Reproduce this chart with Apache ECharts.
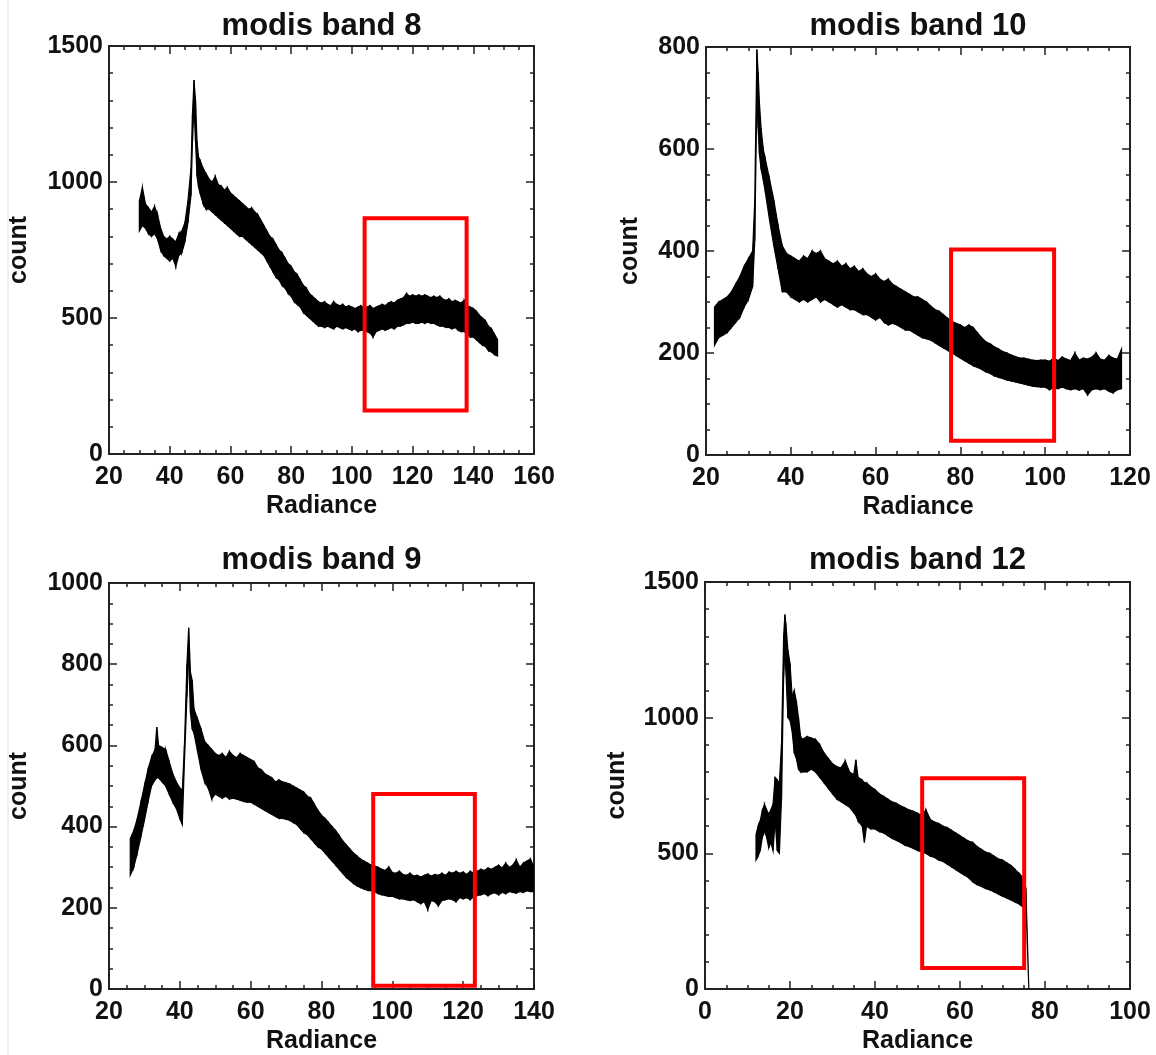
<!DOCTYPE html>
<html><head><meta charset="utf-8">
<script src="https://cdn.jsdelivr.net/npm/echarts@6/dist/echarts.min.js"></script>
<style>html,body{margin:0;padding:0;background:#fff}#main{width:1156px;height:1055px}</style>
</head><body><div id="main"></div>
<script>
// ---------- DATA ----------
const titles = ['modis band 8', 'modis band 10', 'modis band 9', 'modis band 12'];
const xAxisName = 'Radiance';
const yAxisName = 'count';

// band 8: radiance, upper / lower edge of the noisy count trace
const b8X = [30,31,32,33,34,35,36,37,38,39,40,41,42,43,44,45,46,47,47.5,48,48.5,49,49.5,
 50,51,52,53,54,55,56,57,58,59,60,61,62,63,64,65,66,67,68,69,70,71,72,73,74,75,76,77,78,79,
 80,81,82,83,84,85,86,87,88,89,90,91,92,93,94,95,96,97,98,99,100,101,102,103,104,105,106,107,108,109,
 110,111,112,113,114,115,116,117,118,119,120,121,122,123,124,125,126,127,128,129,130,131,132,133,134,135,136,137,138,139,
 140,141,142,143,144,145,146,147,148];
const b8Up = [930,980,920,905,890,910,880,830,800,790,800,790,780,810,820,850,930,1050,1250,1375,1300,1150,1090,
 1080,1050,1030,1010,1000,1020,990,985,970,980,960,950,940,930,920,910,900,905,890,880,860,840,820,800,790,770,750,740,720,700,
 690,670,660,640,620,610,590,580,570,560,555,560,550,545,560,550,545,550,540,545,540,535,540,545,535,540,545,535,540,545,
 550,545,555,560,555,565,570,575,590,580,585,580,585,580,585,580,575,580,575,580,570,565,570,560,565,560,555,565,545,540,
 535,525,510,500,490,470,460,440,420];
const b8Lo = [820,840,830,810,800,810,790,750,730,720,710,720,690,730,740,780,850,950,1150,1280,1150,1020,980,
 960,920,900,900,890,880,870,860,850,840,830,820,810,800,800,790,780,770,760,750,740,730,710,690,670,650,640,620,610,590,
 580,560,550,540,520,510,500,490,480,470,470,465,470,465,460,470,465,460,465,460,455,460,450,455,455,450,445,430,450,455,
 460,455,460,465,460,470,470,475,480,480,485,480,480,485,480,485,480,480,475,470,470,465,465,460,465,455,450,450,440,430,
 430,420,410,400,395,380,375,365,360];

// band 10
const b10X = [22,23,24,25,26,27,28,29,30,31,31.5,32,32.3,32.6,33,33.5,34,35,36,37,38,39,
 40,41,42,43,44,45,46,47,48,49,50,51,52,53,54,55,56,57,58,59,60,61,62,63,64,65,66,67,68,69,
 70,71,72,73,74,75,76,77,78,79,80,81,82,83,84,85,86,87,88,89,90,91,92,93,94,95,96,97,98,99,
 100,101,102,103,104,105,106,107,108,109,110,111,112,113,114,115,116,117,118];
const b10Up = [290,300,305,310,320,335,350,370,385,400,500,795,750,690,640,600,580,540,500,450,410,395,
 390,385,380,390,385,400,395,400,385,380,375,380,370,375,365,370,360,365,355,350,355,345,340,345,335,330,325,320,315,310,
 310,305,300,292,285,282,275,268,262,258,255,250,255,250,240,230,222,218,212,208,203,200,196,193,190,190,188,186,185,186,
 186,184,190,185,192,188,185,200,186,190,188,192,200,188,186,195,190,188,208];
const b10Lo = [215,230,235,240,250,260,270,290,305,330,420,700,640,590,560,540,515,460,410,365,320,320,
 310,305,300,305,300,305,310,300,305,300,295,290,295,290,285,285,280,275,275,270,265,270,260,255,258,255,250,245,245,240,
 235,230,228,225,220,215,210,205,200,195,190,185,180,175,172,168,163,160,155,152,150,147,145,143,141,139,137,135,134,133,
 133,128,132,130,133,130,128,130,127,130,118,128,130,128,130,125,122,128,130];

// band 9
const b9X = [26,27,28,29,30,31,32,33,33.5,34,35,36,37,38,39,40,40.7,41.3,42,42.5,43,43.5,44,45,46,47,48,49,
 50,51,52,53,54,55,56,57,58,59,60,61,62,63,64,65,66,67,68,69,70,71,72,73,74,75,76,77,78,79,
 80,81,82,83,84,85,86,87,88,89,90,91,92,93,94,95,96,97,98,99,100,101,102,103,104,105,106,107,108,109,
 110,111,112,113,114,115,116,117,118,119,120,121,122,123,124,125,126,127,128,129,130,131,132,133,134,135,136,137,138,139,140];
const b9Up = [370,390,420,460,500,540,570,590,645,600,595,590,560,530,510,495,490,600,800,890,780,760,690,665,640,610,600,590,
 580,575,580,570,585,575,570,580,575,570,565,560,545,540,530,525,520,510,515,510,508,505,500,495,490,485,475,470,455,440,
 428,420,410,400,390,378,365,355,345,335,328,320,315,310,305,303,300,295,292,300,287,285,290,282,280,285,278,280,276,280,
 283,278,282,280,285,280,288,285,290,285,288,282,290,285,290,295,292,298,295,300,305,298,310,300,305,318,300,310,315,320,300];
const b9Lo = [280,300,335,375,415,460,500,515,520,520,510,500,480,460,445,420,405,560,720,820,680,640,630,585,540,510,495,468,
 480,475,470,475,468,470,468,465,462,460,460,455,450,445,440,435,430,425,420,420,418,415,410,405,395,385,380,370,360,350,
 345,335,325,315,305,295,285,275,268,260,254,250,246,243,242,240,235,232,230,228,228,225,222,222,220,218,220,215,210,215,
 196,218,215,205,218,220,222,220,215,225,222,225,220,228,230,232,235,230,235,237,232,238,235,240,238,236,240,238,242,240,240];

// band 12
const b12X = [12,12.5,13,13.5,14,14.5,15,15.5,16,16.5,17,17.5,18,18.5,18.8,19,19.5,20,20.5,21,21.5,22,22.5,23,24,25,26,27,28,29,
 30,31,32,33,34,35,35.5,36,37,37.5,38,39,40,41,42,43,44,45,46,47,48,49,50,51,52,53,54,55,56,57,58,59,
 60,61,62,63,64,65,66,67,68,69,70,71,72,73,74,75,75.5,76.2];
const b12Up = [570,600,620,660,680,660,645,660,680,780,770,760,900,1300,1380,1350,1250,1200,1080,1100,1060,1000,930,920,930,925,920,900,870,850,
 830,820,815,840,800,790,845,780,770,760,760,745,735,720,710,700,690,685,675,668,660,655,648,640,660,625,615,610,600,595,585,575,
 565,555,545,540,525,515,505,500,490,480,475,465,455,440,425,405,370,0];
const b12Lo = [475,490,510,560,580,560,520,540,510,620,510,500,700,1150,1250,1180,1000,990,950,870,850,810,800,800,800,810,800,780,760,740,
 720,700,690,680,670,650,640,620,600,540,600,590,590,580,575,565,555,548,540,530,525,518,510,505,500,490,485,475,470,460,450,440,
 430,420,410,395,385,378,370,365,358,350,342,335,328,320,312,300,320,0];

// red highlight boxes: [x1, y1, x2, y2]
const box8 = [104.2, 160, 137.8, 867];
const box10 = [77.8, 28, 102.1, 403];
const box9 = [94.6, 8, 123.3, 480];
const box12 = [51.1, 77, 75.1, 777];

// ---------- LAYOUT ----------
const FONT = '"Liberation Sans", Arial, Helvetica, sans-serif';
const panels = [
  {title: titles[0], x: b8X, up: b8Up, lo: b8Lo, box: box8,
   grid: {left: 109, top: 46, width: 425, height: 408}, titleY: 11,
   xr: [20, 160, 20, 4], yr: [0, 1500, 500, 5], yGap: 77},
  {title: titles[1], x: b10X, up: b10Up, lo: b10Lo, box: box10,
   grid: {left: 706, top: 47, width: 424, height: 408}, titleY: 11,
   xr: [20, 120, 20, 4], yr: [0, 800, 200, 4], yGap: 63},
  {title: titles[2], x: b9X, up: b9Up, lo: b9Lo, box: box9,
   grid: {left: 109, top: 583, width: 425, height: 408}, titleY: 545,
   xr: [20, 140, 20, 4], yr: [0, 1000, 200, 4], yGap: 77},
  {title: titles[3], x: b12X, up: b12Up, lo: b12Lo, box: box12,
   grid: {left: 705, top: 582, width: 425, height: 408}, titleY: 545,
   xr: [0, 100, 20, 4], yr: [0, 1500, 500, 5], yGap: 75}
];

const AX = '#222';
const labelStyle = {color: '#111', fontSize: 25, fontWeight: 'bold', fontFamily: FONT};

function axisCommon(r, gi, pos, showLabel, margin) {
  return {
    type: 'value', gridIndex: gi, position: pos,
    min: r[0], max: r[1], interval: r[2],
    axisLine: {show: true, onZero: false, lineStyle: {color: AX, width: 2}},
    axisTick: {show: true, inside: true, length: 8, lineStyle: {color: AX, width: 1.5}},
    minorTick: {show: true, splitNumber: r[3], length: 4, lineStyle: {color: AX, width: 1.5}},
    splitLine: {show: false}, minorSplitLine: {show: false},
    axisLabel: Object.assign({show: showLabel, margin: margin,
      formatter: function (v) { return String(v); }}, labelStyle)
  };
}

const grids = [], xAxes = [], yAxes = [], series = [], titleOpts = [];
panels.forEach((p, i) => {
  grids.push(Object.assign({containLabel: false}, p.grid));
  const xb = axisCommon(p.xr, i, 'bottom', true, 11);
  xb.name = xAxisName; xb.nameLocation = 'middle'; xb.nameGap = 40;
  xb.nameTextStyle = Object.assign({}, labelStyle);
  xAxes.push(xb);
  const yl = axisCommon(p.yr, i, 'left', true, 6);
  yl.name = yAxisName; yl.nameLocation = 'middle'; yl.nameGap = p.yGap;
  yl.nameTextStyle = Object.assign({}, labelStyle);
  yAxes.push(yl);
  titleOpts.push({
    text: p.title, left: p.grid.left + p.grid.width / 2, top: p.titleY,
    textAlign: 'center', padding: 0,
    textStyle: {fontSize: 31, fontWeight: 'bold', color: '#111', fontFamily: FONT}
  });
});
panels.forEach((p, i) => {
  xAxes.push(axisCommon(p.xr, i, 'top', false, 8));
  yAxes.push(axisCommon(p.yr, i, 'right', false, 8));
});

panels.forEach((p, i) => {
  const xs = p.x, up = p.up, lo = p.lo;
  series.push({
    type: 'custom', xAxisIndex: i, yAxisIndex: i, clip: true, silent: true, z: 2,
    encode: {x: 0, y: [1, 2]},
    data: xs.map((x, k) => [x, up[k], lo[k]]),
    renderItem: function (params, api) {
      const k = params.dataIndex;
      if (k >= xs.length - 1) return null;
      const a1 = api.coord([xs[k], up[k]]), a2 = api.coord([xs[k + 1], up[k + 1]]);
      const b2 = api.coord([xs[k + 1], lo[k + 1]]), b1 = api.coord([xs[k], lo[k]]);
      return {type: 'polygon', shape: {points: [a1, a2, b2, b1]},
              style: {fill: '#000', stroke: '#000', lineWidth: 1.2}};
    }
  });
  series.push({
    type: 'custom', xAxisIndex: i, yAxisIndex: i, clip: false, silent: true, z: 5,
    encode: {x: [0, 2], y: [1, 3]},
    data: [p.box],
    renderItem: function (params, api) {
      const tl = api.coord([api.value(0), api.value(3)]);
      const br = api.coord([api.value(2), api.value(1)]);
      return {type: 'rect',
              shape: {x: tl[0], y: tl[1], width: br[0] - tl[0], height: br[1] - tl[1]},
              style: {fill: 'none', stroke: '#ff0000', lineWidth: 4}};
    }
  });
});

const chart = echarts.init(document.getElementById('main'), null, {renderer: 'canvas'});
chart.setOption({
  backgroundColor: '#fff',
  animation: false,
  title: titleOpts,
  grid: grids,
  xAxis: xAxes,
  yAxis: yAxes,
  series: series,
  graphic: [{type: 'line', shape: {x1: 8, y1: 0, x2: 8, y2: 1055},
             style: {stroke: '#e2e2e2', lineWidth: 1}, silent: true}]
});
</script>
</body></html>
